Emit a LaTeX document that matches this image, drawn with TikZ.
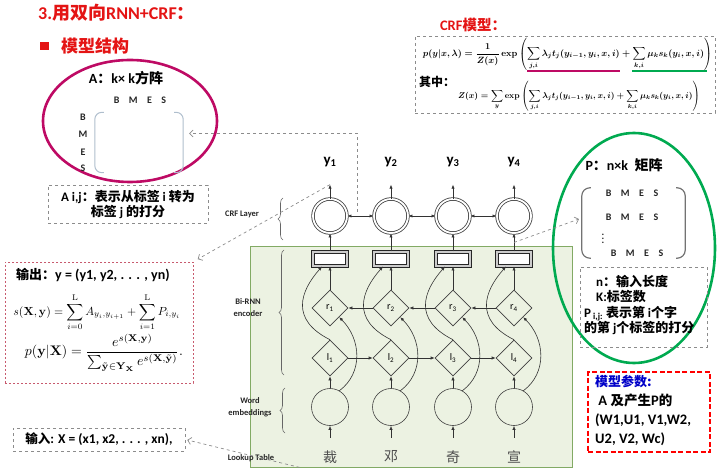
\RequirePackage{fix-cm}
\documentclass[tikz,border=0pt]{standalone}
\usepackage{amsmath, amssymb}
\usepackage{graphicx}
\usepackage[no-math]{fontspec}
\setmainfont{Carlito}
\newfontfamily\cjk{Noto Sans CJK SC}
\usepackage{xcolor}
\usepackage{tikz}
\usetikzlibrary{
arrows.meta,
positioning,
shapes.geometric,
decorations.pathreplacing,
calc
}
\definecolor{slidered}{RGB}{228,20,20}
\definecolor{ovalmag}{RGB}{190,10,100}
\definecolor{ovalgreen}{RGB}{0,170,80}
\definecolor{encfill}{RGB}{236,242,226}
\definecolor{encline}{RGB}{130,170,100}
\definecolor{notegray}{RGB}{140,140,140}
\definecolor{parblue}{RGB}{0,0,200}
\definecolor{outpink}{RGB}{200,90,110}
\definecolor{parenblue}{RGB}{175,190,205}

\newcommand{\fsz}[2]{\fontsize{#1}{#2}\selectfont}
\newcommand{\bmes}{B\hspace{0.95em}M\hspace{0.95em}E\hspace{0.95em}S}
\newcommand{\crfsum}{\sum_{j,i}\lambda_j t_j(y_{i-1},y_i,x,i)+\sum_{k,i}\mu_k s_k(y_i,x,i)}
\newsavebox{\crfeqbox}
\newsavebox{\zeqbox}
\newsavebox{\seqbox}
\newsavebox{\peqbox}

\begin{document}
\sbox{\crfeqbox}{\resizebox{289pt}{!}{\boldmath$\displaystyle p(y\vert x,\lambda)=\frac{1}{Z(x)}\exp\left(\crfsum\right)$}}
\sbox{\zeqbox}{\resizebox{242pt}{!}{\boldmath$\displaystyle Z(x)=\sum_{y}\exp\left(\crfsum\right)$}}
\sbox{\seqbox}{\resizebox{167pt}{!}{$\displaystyle s(\mathbf{X},\mathbf{y})=\sum_{i=0}^{\mathrm{L}}A_{y_i,y_{i+1}}+\sum_{i=1}^{\mathrm{L}}P_{i,y_i}$}}
\sbox{\peqbox}{\resizebox{158pt}{!}{$\displaystyle p(\mathbf{y}\vert\mathbf{X})=\frac{e^{s(\mathbf{X},\mathbf{y})}}{\sum_{\tilde{\mathbf{y}}\in\mathbf{Y}_{\mathbf{X}}}e^{s(\mathbf{X},\tilde{\mathbf{y}})}}.$}}
\begin{tikzpicture}[
  x=1pt, y=-1pt,
  >={Latex[length=4pt,width=3.2pt]},
  every node/.style={inner sep=1pt},
  flow/.style={->, black!80, line width=0.6pt},
  note/.style={dashed, notegray, line width=0.7pt, -{Straight Barb[length=3.5pt,width=7pt]}},
  crfnode/.style={circle, draw=black!75, line width=0.8pt, double=white,
    double distance=1.8pt, minimum size=34pt, inner sep=0pt},
  hidbox/.style={rectangle, draw=black!85, line width=1pt, double=black!20,
    double distance=1.6pt, fill=white, minimum width=34pt, minimum height=14pt},
  rnnnode/.style={diamond, draw=black!75, line width=0.6pt, fill=encfill,
    minimum width=36pt, minimum height=36pt, inner sep=0pt, font=\fsz{10}{12}},
  embnode/.style={circle, draw=black!75, line width=0.6pt, fill=encfill,
    minimum size=37pt, inner sep=0pt},
  ylab/.style={font=\fsz{15}{18}\bfseries},
  wordch/.style={font=\cjk\fsz{14}{16}, text=black!70},
  side/.style={font=\fsz{8.5}{12}\bfseries, align=center, text=black!85},
  brc/.style={decorate, decoration={brace, amplitude=5pt}, black!60, line width=0.6pt},
  dashbox/.style={draw=notegray, dashed, line width=0.6pt},
  mlet/.style={font=\fsz{10}{12}\bfseries, text=black!85},
  bold13/.style={font=\fsz{13}{15}\bfseries}
]
\useasboundingbox (0,0) rectangle (720,470);

%% ── TITLE ───────────────────────────────────────────────────────
\node[anchor=west, font=\fsz{18}{20}\bfseries, slidered] (title) at (37,13)
  {3.{\cjk 用双向}RNN+CRF{\cjk ：}};
\fill[slidered] (40,42) rectangle (49,50);
\node[anchor=west, font=\cjk\fsz{17}{19}\bfseries, slidered] (sub) at (60,46)
  {模型结构};

%% ── ENCODER BACKGROUND ──────────────────────────────────────────
\node[draw=encline, fill=encfill, line width=0.8pt, minimum width=322pt,
      minimum height=221pt] (enc) at (411,356.5) {};

%% ── A MATRIX (transition) ───────────────────────────────────────
\draw[ovalmag, line width=2.6pt] (130,121) ellipse [x radius=87pt, y radius=61pt];
\node[font=\fsz{14}{16}\bfseries] (Atitle) at (126,78) {A{\cjk ：}k×\ k{\cjk 方阵}};
\node[minimum width=88pt, minimum height=60pt, inner sep=0pt] (Amat) at (139,142.5) {};
\draw[parenblue, line width=1pt, rounded corners=7pt]
  ([xshift=9pt]Amat.north west) -- (Amat.north west) -- (Amat.south west)
  -- ([xshift=9pt]Amat.south west);
\draw[parenblue, line width=1pt, rounded corners=7pt]
  ([xshift=-9pt]Amat.north east) -- (Amat.north east) -- (Amat.south east)
  -- ([xshift=-9pt]Amat.south east);
\node[mlet] (Ahead) at (140,100) {\bmes};
\foreach \k/\yy in {B/117, M/134, E/152, S/168}{
  \node[mlet] (Arow\k) at (83,\yy) {\k};
}
\node[dashbox, bold13, align=center, minimum width=160pt, minimum height=38pt]
  (Anote) at (128,204)
  {A i,j{\cjk ：表示从标签} i {\cjk 转为}\\{\cjk 标签} j {\cjk 的打分}};

%% ── CRF MODEL ───────────────────────────────────────────────────
\node[font=\fsz{14.5}{16}\bfseries, slidered] (crftitle) at (473,25) {CRF{\cjk 模型：}};
\node[dashbox, minimum width=300pt, minimum height=77pt] (crfbox) at (565,74.5) {};
\node (crfeq) at (567.5,54) {\usebox{\crfeqbox}};
\node[font=\cjk\fsz{12}{14}\bfseries] (qizhong) at (437,82) {其中：};
\node (zeq) at (579,96) {\usebox{\zeqbox}};
\draw[ovalmag, line width=2pt] (527,71) -- (620,71);
\draw[ovalgreen, line width=2pt] (632,71) -- (707,71);

%% ── P MATRIX (emission) ─────────────────────────────────────────
\draw[ovalgreen, line width=2.6pt] (634,248) ellipse [x radius=81pt, y radius=115pt];
\node[font=\fsz{14}{16}\bfseries] (Ptitle) at (624,165) {P{\cjk ：}n×k\ \ {\cjk 矩阵}};
\node[minimum width=103pt, minimum height=70pt, inner sep=0pt] (Pmat) at (633.5,223) {};
\draw[black!55, line width=1.2pt, rounded corners=8pt]
  ([xshift=9pt]Pmat.north west) -- (Pmat.north west) -- (Pmat.south west)
  -- ([xshift=9pt]Pmat.south west);
\draw[black!55, line width=1.2pt, rounded corners=8pt]
  ([xshift=-9pt]Pmat.north east) -- (Pmat.north east) -- (Pmat.south east)
  -- ([xshift=-9pt]Pmat.south east);
\node[mlet] (Prow1) at (632,193) {\bmes};
\node[mlet] (Prow2) at (632,217) {\bmes};
\node[mlet] (Pdots) at (603,236) {$\vdots$};
\node[mlet] (Prow3) at (637,253) {\bmes};
\node[dashbox, minimum width=127pt, minimum height=80pt] (Pnote) at (643.5,307) {};
\node[align=left, anchor=west, font=\fsz{13}{15.3}\bfseries] (Ptext) at (583,305)
  {\hspace*{12pt}n{\cjk ：输入长度}\\
   \hspace*{12pt}K:{\cjk 标签数}\\
   P\textsubscript{ i,j:}\ {\cjk 表示第}\ i{\cjk 个字}\\
   {\cjk 的第}\ j{\cjk 个标签的打分}};

%% ── MODEL PARAMETERS ────────────────────────────────────────────
\node[draw=red, line width=1.6pt, dash pattern=on 5pt off 2.5pt,
      minimum width=122pt, minimum height=80pt] (parbox) at (649,412) {};
\node[align=left, anchor=north west, font=\fsz{14.5}{19}\bfseries] (partext) at (594,374)
  {{\cjk\fsz{13}{19}\color{parblue}模型参数:}\\
   \ A {\cjk\fsz{13.5}{19}及产生}P{\cjk\fsz{13.5}{19}的}\\
   (W1,U1, V1,W2,\\
   U2, V2, Wc)};

%% ── INPUT / OUTPUT ──────────────────────────────────────────────
\node[dashbox, font=\fsz{13.5}{15}\bfseries, minimum width=172pt, minimum height=23pt]
  (inbox) at (99,439.5) {{\cjk\fsz{12.5}{15}输入}: X = (x1, x2, . . . , xn),};
\node[draw=outpink, dash pattern=on 2pt off 2pt, line width=0.7pt,
      minimum width=188pt, minimum height=121pt] (outbox) at (99,322.5) {};
\node[anchor=west, font=\fsz{14}{15}\bfseries] (outhead) at (15,275)
  {{\cjk\fsz{13}{15}输出：}y = (y1, y2, . . . , yn)};
\node (seq) at (97,312) {\usebox{\seqbox}};
\node (peq) at (104,353) {\usebox{\peqbox}};

%% ── NETWORK COLUMNS ─────────────────────────────────────────────
\foreach \i/\x/\c in {1/330/裁, 2/391/邓, 3/453/奇, 4/514/宣}{
  \node[ylab] (y\i) at (\x,162) {y\textsubscript{\i}};
  \node[crfnode] (crf\i) at (\x,216) {};
  \node[hidbox] (h\i) at (\x,259) {};
  \node[rnnnode] (r\i) at (\x,308) {r\textsubscript{\i}};
  \node[rnnnode] (l\i) at (\x,358) {l\textsubscript{\i}};
  \node[embnode] (e\i) at (\x,407) {};
  \node[wordch] (c\i) at (\x,457) {\c};
}
\foreach \i in {1,...,4}{
  \draw[flow] (crf\i.north) -- ++(0,-14) coordinate (yt\i);
  \draw[flow] (h\i.north) -- (crf\i.south);
  \draw[flow] (r\i.north) -- (h\i.south);
  \draw[flow] (e\i.north) -- (l\i.south);
  \draw[flow] ([yshift=-12pt]e\i.south) -- (e\i.south);
  \draw[flow] (l\i.north) .. controls +(-40,-20) and +(-22,25) .. ([xshift=-8pt]h\i.south);
  \draw[flow] (e\i.60) .. controls +(24,-18) and +(22,22) .. (r\i.-45);
}
\foreach \i/\j in {1/2, 2/3, 3/4}{
  \draw[flow] (l\i) -- (l\j);
  \draw[flow] (r\j) -- (r\i);
  \draw[flow, <->] (crf\i) -- (crf\j);
}

%% ── SIDE LABELS ─────────────────────────────────────────────────
\draw[brc] (283,240) -- (283,198);
\draw[brc] (284,375) -- (284,250);
\draw[brc] (285,433) -- (285,388);
\node[side] (crflab) at (242,214) {CRF Layer};
\node[side] (rnnlab) at (248,308) {Bi-RNN\\encoder};
\node[side] (wordlab) at (250,407) {Word\\embeddings};
\node[side] (looklab) at (251,458) {Lookup Table};

%% ── DASHED POINTERS ─────────────────────────────────────────────
\coordinate (trans) at ($(crf1)!0.5!(crf2)+(-3,-4)$);
\draw[note, shorten >=6pt] (trans) |- ([yshift=9pt]Amat.east);
\draw[note, shorten >=5pt] (yt1) -- (outbox.north east);
\draw[note, shorten >=3pt] ($(h4.north)!0.5!(crf4.south)$) -- ([yshift=5pt]Pmat.west);
\draw[note, shorten >=2pt] ($(enc.south west)+(50,0)$) -- (inbox.east);

\end{tikzpicture}
\end{document}
